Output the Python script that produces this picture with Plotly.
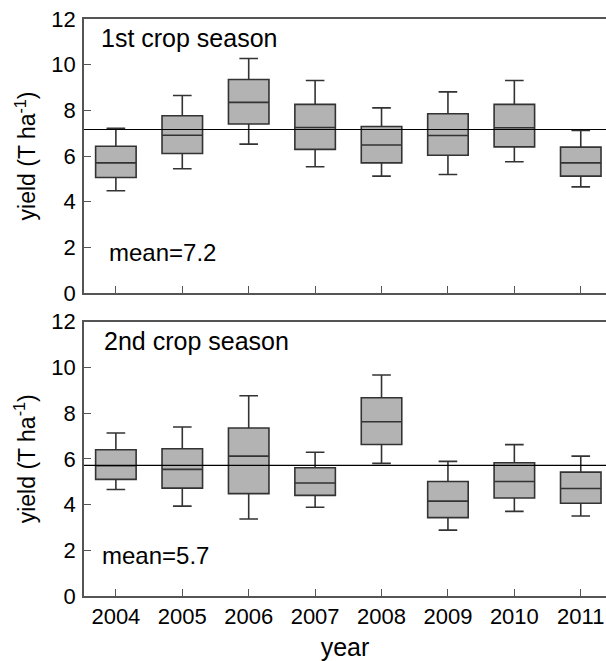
import plotly.graph_objects as go
from plotly.subplots import make_subplots

years = [2004, 2005, 2006, 2007, 2008, 2009, 2010, 2011]

# 1st crop season (T/ha)
s1_low = [4.48, 5.44, 6.52, 5.53, 5.12, 5.19, 5.75, 4.65]
s1_q1 = [5.06, 6.11, 7.40, 6.29, 5.70, 6.03, 6.40, 5.12]
s1_med = [5.70, 6.91, 8.35, 7.25, 6.48, 6.90, 7.24, 5.70]
s1_q3 = [6.43, 7.76, 9.35, 8.26, 7.29, 7.85, 8.26, 6.39]
s1_high = [7.21, 8.65, 10.27, 9.31, 8.11, 8.81, 9.31, 7.12]
s1_mean = 7.16

# 2nd crop season (T/ha)
s2_low = [4.66, 3.93, 3.37, 3.88, 5.80, 2.88, 3.70, 3.50]
s2_q1 = [5.10, 4.72, 4.48, 4.40, 6.63, 3.43, 4.29, 4.06]
s2_med = [5.70, 5.54, 6.12, 4.94, 7.62, 4.15, 5.01, 4.70]
s2_q3 = [6.40, 6.44, 7.35, 5.61, 8.67, 5.01, 5.83, 5.42]
s2_high = [7.13, 7.39, 8.76, 6.29, 9.67, 5.89, 6.62, 6.12]
s2_mean = 5.71

yticks = [0, 2, 4, 6, 8, 10, 12]

FONT = "Liberation Sans, Arial, sans-serif"
BOXLINE = "#333333"
FILL = "#b3b3b3"

fig = make_subplots(rows=2, cols=1, shared_xaxes=False, vertical_spacing=0.0)

for row, (lo, q1, md, q3, hi) in enumerate(
        [(s1_low, s1_q1, s1_med, s1_q3, s1_high),
         (s2_low, s2_q1, s2_med, s2_q3, s2_high)], start=1):
    fig.add_trace(go.Box(
        x=years, q1=q1, median=md, q3=q3, lowerfence=lo, upperfence=hi,
        fillcolor=FILL, line=dict(color=BOXLINE, width=1.6),
        width=0.61, whiskerwidth=0.46, boxpoints=False, showlegend=False,
        hoverinfo="skip"), row=row, col=1)

xr = [2003.52, 2011.38]
axcommon = dict(showline=True, linecolor="#555555", linewidth=1.8,
                ticks="inside", ticklen=7, tickwidth=1.3, tickcolor="#555555",
                showgrid=False, zeroline=False)

fig.update_xaxes(range=xr, tickvals=years, mirror=True, **axcommon)
fig.update_xaxes(showticklabels=False, row=1, col=1)
fig.update_xaxes(ticktext=[str(y) for y in years], showticklabels=True,
                 tickfont=dict(family=FONT, size=22, color="black"),
                 ticklabelstandoff=0,
                 title=dict(text="year", font=dict(family=FONT, size=25, color="black"),
                            standoff=13),
                 row=2, col=1)
fig.update_yaxes(range=[0, 12], tickvals=yticks, mirror=False,
                 tickfont=dict(family=FONT, size=22, color="black"),
                 ticklabelstandoff=2,
                 title=dict(text="yield (T ha<sup>-1</sup>)",
                            font=dict(family=FONT, size=23, color="black"),
                            standoff=9),
                 **axcommon)

fig.update_layout(
    width=606, height=661,
    margin=dict(l=84, r=0, t=19, b=65),
    plot_bgcolor="white", paper_bgcolor="white",
    font=dict(family=FONT, color="black"),
)
fig.layout.yaxis.domain = [0.5251, 1.0]
fig.layout.yaxis2.domain = [0.0, 0.4754]

# mean lines
for row, m in [(1, s1_mean), (2, s2_mean)]:
    xref = "x domain" if row == 1 else "x2 domain"
    yref = "y" if row == 1 else "y2"
    fig.add_shape(type="line", xref=xref, yref=yref, x0=0, x1=1, y0=m, y1=m,
                  line=dict(color="black", width=1.2), layer="above")

annots = [
    ("x", "y", 2003.74, 11.16, "1st crop season", 25),
    ("x", "y", 2003.86, 1.76, "mean=7.2", 24),
    ("x2", "y2", 2003.79, 11.14, "2nd crop season", 25),
    ("x2", "y2", 2003.76, 1.78, "mean=5.7", 24),
]
for xref, yref, ax, ay, txt, fs in annots:
    fig.add_annotation(xref=xref, yref=yref, x=ax, y=ay, text=txt,
                       showarrow=False, xanchor="left", yanchor="middle",
                       font=dict(family=FONT, size=fs, color="black"))

fig.write_html("out.html", config={"displayModeBar": False},
               post_script="document.body.style.margin='0';document.body.style.overflow='hidden';")
